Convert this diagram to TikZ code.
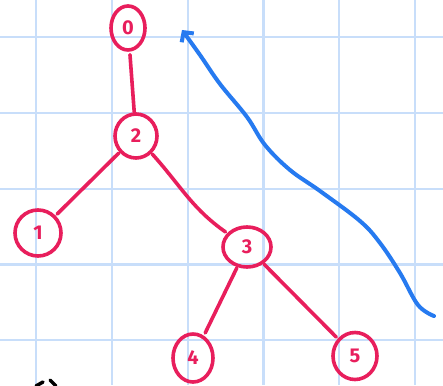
\documentclass[tikz,border=0pt]{standalone}
\usepackage{fontspec}
\setmainfont{Fira Sans}
\usetikzlibrary{arrows.meta,shapes.geometric}
\definecolor{inkred}{RGB}{232,30,92}
\definecolor{inkblue}{RGB}{38,122,240}
\definecolor{gridblue}{RGB}{200,222,250}
\tikzset{
    vertex/.style={
        ellipse,draw=inkred,line width=3.6pt,inner sep=0pt,
        text=inkred,font=\fontsize{20}{20}\selectfont\bfseries
    },
    edge/.style={
        draw=inkred,line width=3.6pt,line cap=round
    },
    sweep/.style={
        draw=inkblue,line width=4pt,line cap=round,line join=round,
        -{Straight Barb[length=7pt,width=15pt,line width=4pt]}
    }
}
\begin{document}
\begin{tikzpicture}[x=1pt,y=-1pt]

\fill[white] (0,0) rectangle (443,385);
\useasboundingbox (0,0) rectangle (443,385);

% squared paper
\foreach \k in {0,...,5}
    \draw[gridblue,line width=2.2pt] ({36+75.8*\k},0) -- ({36+75.8*\k},385);
\foreach \k in {0,...,4}
    \draw[gridblue,line width=2.2pt] (0,{37+75.8*\k}) -- (443,{37+75.8*\k});

% tree
\node[vertex,minimum width=34pt,minimum height=44pt] (n0) at (128,28) {0};
\node[vertex,minimum width=42pt,minimum height=44pt] (n2) at (136,136) {2};
\node[vertex,minimum width=46pt,minimum height=46pt] (n1) at (38,233) {1};
\node[vertex,minimum width=48pt,minimum height=40pt] (n3) at (247,247) {3};
\node[vertex,minimum width=40pt,minimum height=48pt] (n4) at (193,358) {4};
\node[vertex,minimum width=44pt,minimum height=47pt] (n5) at (355,356) {5};

\draw[edge,shorten <=3pt] (n0) -- (n2);
\draw[edge,shorten <=1pt,shorten >=2pt] (n2) -- (n1);
\draw[edge,shorten <=1pt,shorten >=2pt] (n2) to[out=-48,in=145] (n3);
\draw[edge,shorten <=1pt,shorten >=3pt] (n3) -- (n4);
\draw[edge,shorten <=1pt,shorten >=2pt] (n3) -- (n5);

% blue sweep
\coordinate (tail) at (434,316);
\coordinate (tip) at (182,30);
\draw[sweep] plot[smooth,tension=0.6] coordinates {(tail) (418,305) (400,273) (380,243)
    (360,221) (320,191) (290,170) (265,145) (247,117) (220,84) (200,55) (tip)};

% pen marks at the bottom
\draw[black,line width=3.5pt,line cap=round] (36,386) -- (43,382);
\draw[black,line width=3.5pt,line cap=round] (50,380) -- (56,386);

\end{tikzpicture}
\end{document}
